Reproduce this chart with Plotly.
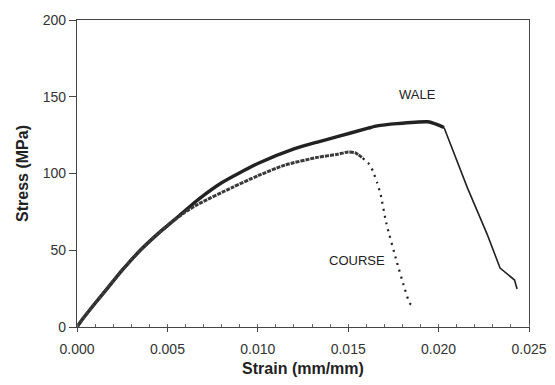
import plotly.graph_objects as go

# WALE direction: strain (mm/mm) and stress (MPa)
wale_strain = [0.0, 0.0003, 0.0009, 0.0017, 0.0025, 0.0035, 0.0045, 0.0051, 0.0060, 0.0067,
               0.0080, 0.0100, 0.0120, 0.0133, 0.0144, 0.0161, 0.0166, 0.0177, 0.0194,
               0.0199, 0.0203, 0.0216, 0.0227, 0.0234, 0.0242, 0.02434]
wale_stress = [0.0, 5.0, 14.0, 25.5, 37.0, 50.0, 61.0, 67.0, 76.0, 83.0,
               94.0, 106.5, 116.0, 120.5, 124.0, 129.5, 131.0, 132.5, 133.7,
               132.0, 130.0, 90.5, 60.0, 38.4, 30.6, 24.7]
wale_break = 20  # index where the fracture (thin line) begins

# COURSE direction
course_strain = [0.0, 0.0003, 0.0009, 0.0017, 0.0025, 0.0035, 0.0045, 0.0051, 0.0060, 0.0067,
                 0.0086, 0.0100, 0.0115, 0.0133, 0.0144, 0.0150, 0.0154, 0.0158,
                 0.0161, 0.01635, 0.0166, 0.0168, 0.0171, 0.0177, 0.0181, 0.0184, 0.01865]
course_stress = [0.0, 5.0, 14.0, 25.5, 37.0, 50.0, 61.0, 67.0, 75.0, 80.0,
                 91.0, 98.5, 105.5, 110.5, 112.5, 114.0, 113.5, 110.0,
                 107.0, 102.0, 94.0, 86.0, 68.0, 42.0, 26.0, 15.5, 13.0]
course_break = 17

x_ticks = [0.000, 0.005, 0.010, 0.015, 0.020, 0.025]
x_tick_labels = ["0.000", "0.005", "0.010", "0.015", "0.020", "0.025"]
y_ticks = [0, 50, 100, 150, 200]

ink = "#222222"
font_family = "Liberation Sans, Arial, sans-serif"

fig = go.Figure()
fig.add_trace(go.Scatter(x=wale_strain[:wale_break + 1], y=wale_stress[:wale_break + 1],
                         mode="lines", line=dict(color=ink, width=3.4, shape="spline", smoothing=0.6),
                         showlegend=False, hoverinfo="skip"))
fig.add_trace(go.Scatter(x=wale_strain[wale_break:], y=wale_stress[wale_break:],
                         mode="lines", line=dict(color=ink, width=1.6),
                         showlegend=False, hoverinfo="skip"))
fig.add_trace(go.Scatter(x=course_strain[:course_break + 1], y=course_stress[:course_break + 1],
                         mode="lines", line=dict(color="#3a3a3a", width=3.0, dash="4px,1px",
                                                 shape="spline", smoothing=0.6),
                         showlegend=False, hoverinfo="skip"))
fig.add_trace(go.Scatter(x=course_strain[course_break:], y=course_stress[course_break:],
                         mode="lines", line=dict(color=ink, width=2.2, dash="2px,5px",
                                                 shape="spline", smoothing=0.5),
                         showlegend=False, hoverinfo="skip"))

fig.add_annotation(x=0.01883, y=151.5, text="WALE", showarrow=False,
                   font=dict(family=font_family, size=13, color=ink))
fig.add_annotation(x=0.01547, y=43.2, text="COURSE", showarrow=False,
                   font=dict(family=font_family, size=13, color=ink))

# The page body adds an 8px margin on every side; size the figure so nothing scrolls.
fig.update_layout(
    width=539, height=369,
    margin=dict(l=69, r=18, t=12, b=50),
    paper_bgcolor="white", plot_bgcolor="white",
    font=dict(family=font_family, size=14, color="#333333"),
)
fig.update_xaxes(
    range=[0, 0.025], tickvals=x_ticks, ticktext=x_tick_labels,
    showgrid=False, zeroline=False, automargin=False, ticklabeloverflow="allow",
    showline=True, linecolor="#444444", linewidth=1.2, mirror=True,
    ticks="outside", ticklen=4, tickcolor="#444444", ticklabelstandoff=5,
    minor=dict(ticks="inside", ticklen=3, dtick=0.001, tickcolor="#666666", showgrid=False),
    tickfont=dict(size=14, color="#333333"),
    title=dict(text="<b>Strain (mm/mm)</b>", font=dict(size=16, color="#222222"), standoff=7),
)
fig.update_yaxes(
    range=[0, 200], tickvals=y_ticks,
    showgrid=False, zeroline=False, automargin=False,
    showline=True, linecolor="#444444", linewidth=1.2, mirror=True,
    ticks="outside", ticklen=7, tickcolor="#444444",
    tickfont=dict(size=14, color="#333333"),
    title=dict(text="<b>Stress (MPa)</b>", font=dict(size=16, color="#222222"), standoff=10),
)

fig.write_html("out.html")
